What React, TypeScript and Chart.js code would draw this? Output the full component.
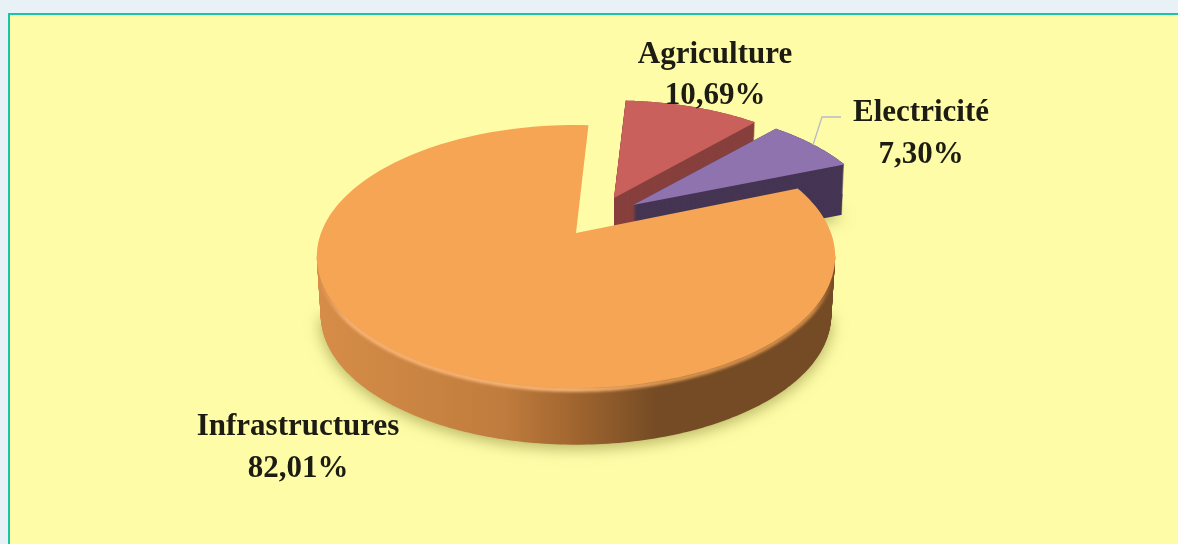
import React, { useEffect, useRef } from "react";
import { Chart, registerables } from "chart.js";

Chart.register(...registerables);

const categories = ["Agriculture", "Electricité", "Infrastructures"];
const shares = [10.69, 7.3, 82.01];

const topColors = ["#C9605C", "#8E73AE", "#F6A555"];
const sideColors = ["#87403D", "#453553", "#744B24"];

// Perspective placement of each wedge (style only, the angles come from the chart's arcs).
const K = 0.179;
const wedgeStyle = [
  { cx: 614, cy: 198, rx: 240, ry: 115, depth: 40, inset: 0.99 },
  { cx: 633, cy: 205, rx: 243, ry: 116, depth: 50, inset: 0.99 },
  { cx: 576, cy: 233, rx: 255, ry: 127.3, depth: 59, inset: 0.985 },
];

const labelStyle = [
  { x: 715, y1: 63, y2: 104 },
  { x: 921, y1: 121, y2: 163 },
  { x: 298, y1: 435, y2: 477 },
];

type W = (typeof wedgeStyle)[number];

function pt(s: W, a: number, t = 0) {
  const u = Math.cos(a);
  const v = Math.sin(a);
  const w = 1 - K * v;
  const f = 1 - (1 - s.inset) * t;
  return [s.cx + (f * s.rx * u) / w, s.cy + s.depth * t + (f * s.ry * v) / w];
}

function wedgePath(ctx: CanvasRenderingContext2D, s: W, a0: number, a1: number, t = 0, apex = true) {
  ctx.beginPath();
  if (apex) ctx.moveTo(s.cx, s.cy + s.depth * t);
  const n = 160;
  for (let i = 0; i <= n; i++) {
    const p = pt(s, a0 + ((a1 - a0) * i) / n, t);
    if (i === 0 && !apex) ctx.moveTo(p[0], p[1]);
    else ctx.lineTo(p[0], p[1]);
  }
  ctx.closePath();
}

const deg = Math.PI / 180;

const pie3d = {
  id: "pie3d",
  beforeDatasetDraw(chart: any) {
    const ctx: CanvasRenderingContext2D = chart.ctx;
    const arcs = chart.getDatasetMeta(0).data;
    arcs.forEach((arc: any, i: number) => {
      const s = wedgeStyle[i];
      const a0 = arc.startAngle;
      const a1 = arc.endAngle;
      const big = a1 - a0 > Math.PI;
      let side: any = sideColors[i];
      if (i === 2) {
        const g = ctx.createLinearGradient(317, 0, 834, 0);
        g.addColorStop(0, "#D68D48");
        g.addColorStop(0.36, "#C07C3D");
        g.addColorStop(0.5, "#A0652F");
        g.addColorStop(0.66, "#744B24");
        g.addColorStop(1, "#744B24");
        side = g;
      }
      const steps = Math.ceil(s.depth);
      ctx.save();
      ctx.fillStyle = side;
      for (let d = steps; d >= 0; d--) {
        if (d === steps && i > 0) {
          ctx.shadowColor = "rgba(110,110,30,0.55)";
          ctx.shadowBlur = 16;
          ctx.shadowOffsetY = 3;
        } else {
          ctx.shadowColor = "transparent";
          ctx.shadowBlur = 0;
          ctx.shadowOffsetY = 0;
        }
        // the large wedge only shows its rounded front wall, never its cut faces
        if (big) wedgePath(ctx, s, 10 * deg, 170 * deg, d / steps, false);
        else wedgePath(ctx, s, a0, a1, d / steps);
        ctx.fill();
      }
      ctx.restore();

      if (i === 2) {
        // soft bevel along the front rim, fading out towards both ends
        const g = ctx.createLinearGradient(317, 0, 834, 0);
        g.addColorStop(0, "rgba(249,179,115,0)");
        g.addColorStop(0.06, "rgba(249,179,115,1)");
        g.addColorStop(0.5, "#FBB877");
        g.addColorStop(0.68, "#E09A52");
        g.addColorStop(0.96, "rgba(212,142,74,1)");
        g.addColorStop(1, "rgba(212,142,74,0)");
        ctx.save();
        (ctx as any).filter = "blur(1.4px)";
        ctx.strokeStyle = g;
        ctx.lineWidth = 4.5;
        ctx.lineCap = "butt";
        ctx.beginPath();
        const lo = 14 * deg;
        const hi = 166 * deg;
        for (let j = 0; j <= 120; j++) {
          const p = pt(s, lo + ((hi - lo) * j) / 120);
          if (j === 0) ctx.moveTo(p[0], p[1] + 1.5);
          else ctx.lineTo(p[0], p[1] + 1.5);
        }
        ctx.stroke();
        ctx.restore();
      }
      ctx.fillStyle = arc.options.backgroundColor;
      wedgePath(ctx, s, a0, a1);
      ctx.fill();
    });
    return false;
  },
  afterDatasetsDraw(chart: any) {
    const ctx: CanvasRenderingContext2D = chart.ctx;
    ctx.save();
    ctx.strokeStyle = "#B9BAC8";
    ctx.lineWidth = 1.3;
    ctx.beginPath();
    ctx.moveTo(841, 117);
    ctx.lineTo(822, 117);
    ctx.lineTo(813, 145);
    ctx.stroke();
    ctx.fillStyle = "#1C1C12";
    ctx.textAlign = "center";
    ctx.textBaseline = "alphabetic";
    ctx.font = 'bold 31px "Liberation Serif"';
    categories.forEach((name, i) => {
      const l = labelStyle[i];
      ctx.fillText(name, l.x, l.y1);
      ctx.fillText(shares[i].toFixed(2).replace(".", ",") + "%", l.x, l.y2);
    });
    ctx.restore();
  },
};

export default function App() {
  const ref = useRef<HTMLCanvasElement>(null);
  useEffect(() => {
    const chart = new Chart(ref.current as HTMLCanvasElement, {
      type: "pie",
      data: {
        labels: categories,
        datasets: [{ data: shares, backgroundColor: topColors, borderWidth: 0 }],
      },
      options: {
        animation: false,
        responsive: false,
        devicePixelRatio: 1,
        rotation: 3.3,
        plugins: { legend: { display: false }, tooltip: { enabled: false } },
      },
      plugins: [pie3d],
    } as any);
    return () => chart.destroy();
  }, []);
  return (
    <div style={{ position: "fixed", inset: 0, background: "#E8F1F6", overflow: "hidden" }}>
      <div
        style={{
          position: "absolute",
          left: 8,
          top: 13,
          width: 1300,
          height: 700,
          boxSizing: "border-box",
          background: "#FFFCA8",
          border: "2px solid #1CC5A2",
        }}
      />
      <canvas
        ref={ref}
        width={1178}
        height={544}
        style={{ position: "absolute", left: 0, top: 0, filter: "blur(0.5px)" }}
      />
    </div>
  );
}
